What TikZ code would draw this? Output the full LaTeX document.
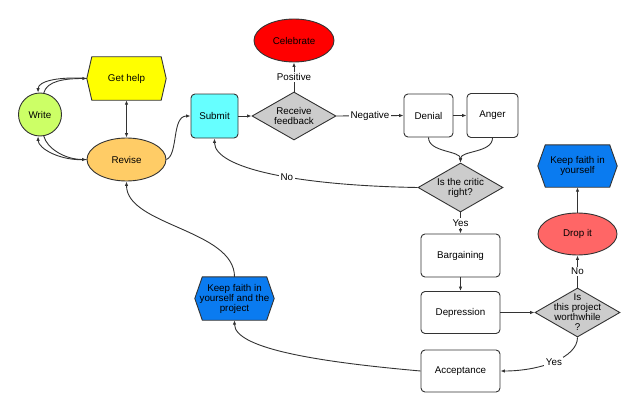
\documentclass[tikz,border=0pt]{standalone}
\usepackage{fontspec}
\setmainfont{Liberation Sans}
\usetikzlibrary{shapes.geometric,arrows.meta}
\definecolor{cwrite}{HTML}{CCFF66}
\definecolor{chelp}{HTML}{FFFF00}
\definecolor{crevise}{HTML}{FFCC66}
\definecolor{csubmit}{HTML}{66FFFF}
\definecolor{cgray}{HTML}{CCCCCC}
\definecolor{cred}{HTML}{FF0000}
\definecolor{cdrop}{HTML}{FF6666}
\definecolor{cblue}{HTML}{0A7BF0}
\definecolor{cline}{HTML}{333333}
\pgfdeclarelayer{bg}
\pgfsetlayers{bg,main}
\newcommand\myhex[3]{\filldraw[fill=#3, draw=cline, line width=0.9pt, line join=miter]
  (#1.west) -- ([xshift=#2]#1.north west) -- ([xshift=-#2]#1.north east) -- (#1.east)
  -- ([xshift=-#2]#1.south east) -- ([xshift=#2]#1.south west) -- cycle;}
\begin{document}
\begin{tikzpicture}[x=1pt,y=-1pt,
  every node/.style={font=\fontsize{9.8}{10}\selectfont, text=black, align=center},
  base/.style={draw=cline, line width=0.9pt, inner sep=0pt},
  box/.style={base, rectangle, rounded corners=4pt, minimum width=79pt, minimum height=43pt, fill=white},
  oval/.style={base, ellipse, minimum width=79pt, minimum height=43pt},
  hexa/.style={rectangle, inner sep=0pt, minimum width=79pt, minimum height=43pt},
  decide/.style={base, diamond, fill=cgray, minimum width=85pt, minimum height=49pt},
  >={Latex[length=4.5pt,width=3.5pt]},
  conn/.style={draw=cline, line width=0.9pt, ->},
  both/.style={draw=cline, line width=0.9pt, <->},
  lab/.style={fill=white, inner sep=1.5pt}
]
\useasboundingbox (0,0) rectangle (640,412);
% nodes
\node[base, circle, fill=cwrite, minimum size=43pt] (write) at (40,114.5) {Write};
\node[hexa] (help) at (126.5,78.5) {Get help};
\node[oval, fill=crevise] (revise) at (126.5,159.5) {Revise};
\node[box, fill=csubmit, minimum width=47pt, minimum height=44pt] (submit) at (214.5,116) {Submit};
\node[decide, minimum width=84pt, minimum height=48pt,
  label={center:{Receive\\feedback}}] (feedback) at (294,116) {};
\node[oval, fill=cred, minimum width=80pt] (celebrate) at (294,40.5) {Celebrate};
\node[box, minimum width=49pt] (denial) at (428.5,115.5) {Denial};
\node[box, minimum width=51pt, minimum height=44pt] (anger) at (492.5,115.5) {Anger};
\node[decide, label={center:{Is the critic\\right?}}] (critic) at (460.5,187.5) {};
\node[box] (bargain) at (460.5,255.5) {Bargaining};
\node[box, minimum height=42pt] (depress) at (460.5,312.5) {Depression};
\node[box, minimum height=42pt] (accept) at (460.5,371) {Acceptance};
\node[decide, label={center:{Is\\this project\\worthwhile\\?}}] (worth) at (577.5,312.5) {};
\node[oval, fill=cdrop, minimum height=42pt] (drop) at (577.5,234) {Drop it};
\node[hexa, minimum height=42pt] (faith) at (577.5,166) {Keep faith in\\yourself};
\node[hexa] (faithp) at (234.5,298.5) {Keep faith in\\yourself and the\\project};
\begin{pgfonlayer}{bg}
  \myhex{help}{5pt}{chelp}
  \myhex{faith}{7.5pt}{cblue}
  \myhex{faithp}{7.5pt}{cblue}
\end{pgfonlayer}
% connectors
\draw[conn] (write.80) .. controls +(3,-12) and +(-22,0) .. (help.west);
\draw[conn] (help.west) .. controls +(-26,-2) and +(0,-12) .. (write.95);
\draw[conn] (write.-80) .. controls +(3,12) and +(-22,0) .. (revise.west);
\draw[conn] (revise.west) .. controls +(-26,2) and +(0,12) .. (write.-95);
\draw[both] (help.south) -- (revise.north);
\draw[conn] (revise.east) .. controls +(12,-5) and +(-19,0) .. (submit.west);
\draw[conn] (submit.east) -- (feedback.west);
\draw[conn] (feedback.north) -- node[lab]{Positive} (celebrate.south);
\draw[conn] (feedback.east) -- node[lab]{Negative} (denial.west);
\draw[conn] (denial.east) -- (anger.west);
\draw[conn] (denial.south) .. controls +(0,15) and +(0,-12) .. (critic.north);
\draw[conn] (anger.south) .. controls +(0,15) and +(0,-12) .. (critic.north);
\draw[conn] (critic.west) .. controls +(-120,-2) and +(0,30) .. node[lab, pos=0.43]{No} (submit.south);
\draw[conn] (critic.south) -- node[lab]{Yes} (bargain.north);
\draw[conn] (bargain.south) -- (depress.north);
\draw[conn] (depress.east) -- (worth.west);
\draw[conn] (worth.north) -- node[lab]{No} (drop.south);
\draw[conn] (drop.north) -- (faith.south);
\draw[conn] (worth.south) .. controls +(0,20) and +(40,0) .. node[lab, pos=0.5]{Yes} (accept.east);
\draw[conn] (accept.west) .. controls +(-90,-8) and +(0,30) .. (faithp.south);
\draw[conn] (faithp.north) .. controls +(0,-47) and +(0,44) .. (revise.south);
\end{tikzpicture}
\end{document}
